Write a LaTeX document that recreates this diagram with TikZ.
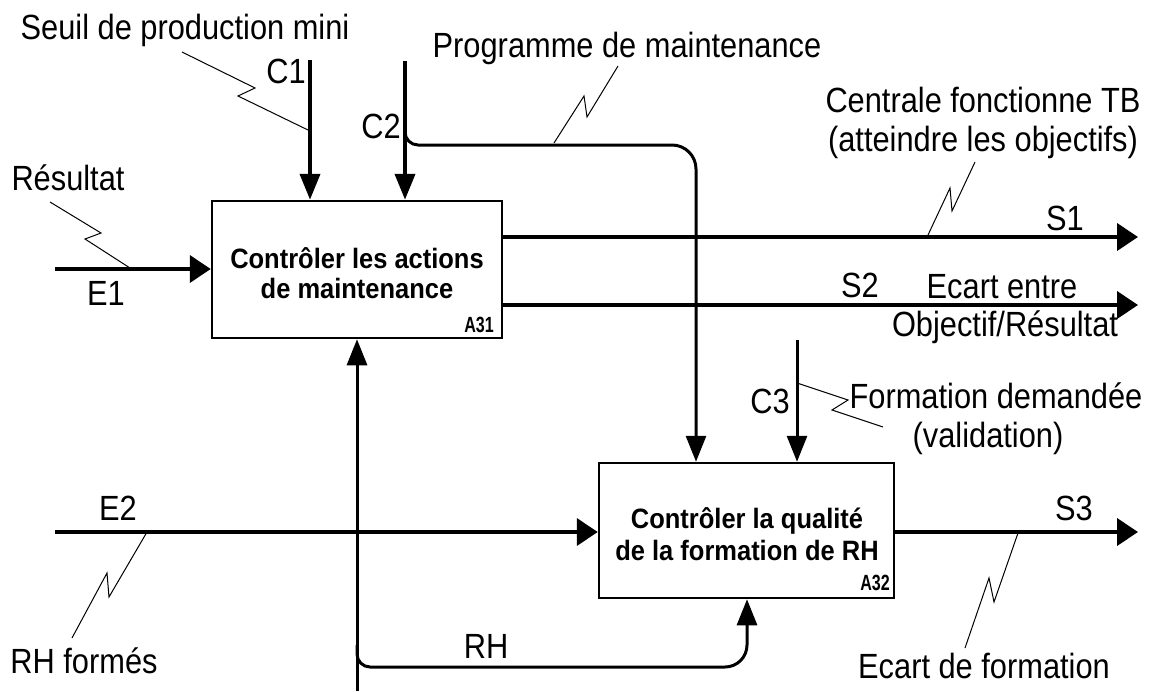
\documentclass[tikz,border=0pt]{standalone}
\usepackage{fontspec}
\setmainfont{Liberation Sans}[FakeStretch=0.88]
\newfontfamily\boxfont{Liberation Sans}[FakeStretch=0.91]
\newfontfamily\tagfont{Liberation Sans}[FakeStretch=0.73]
\usetikzlibrary{arrows.meta}
\tikzset{
 lab/.style={anchor=base, inner sep=0pt, font={\fontsize{35}{39}\selectfont}},
 btxt/.style={anchor=base, inner sep=0pt, font={\boxfont\bfseries\fontsize{28}{30}\selectfont}},
 tagtxt/.style={anchor=base east, inner sep=0pt, font={\tagfont\bfseries\fontsize{22}{24}\selectfont}},
 actbox/.style={draw, line width=2.5pt, fill=white, inner sep=0pt},
 thickline/.style={line width=4pt},
 medline/.style={line width=3pt},
 varr/.style={-{Triangle[length=26pt,width=20pt]}},
 harr/.style={-{Triangle[length=21pt,width=27pt]}},
 squig/.style={line width=1pt, line join=miter},
}
\begin{document}
\begin{tikzpicture}[x=1pt,y=-1pt]
\fill[white] (0,0) rectangle (1150,691);
\useasboundingbox (0,0) rectangle (1150,691);
% activity boxes
\node[actbox, minimum width=290pt, minimum height=137pt] (A31) at (357,269.5) {};
\node[actbox, minimum width=295pt, minimum height=135pt] (A32) at (746.5,530.5) {};
\node[btxt] (t31a) at (357,268) {Contrôler les actions};
\node[btxt] (t31b) at (357,298) {de maintenance};
\node[tagtxt] (tag31) at (494,332) {A31};
\node[btxt] (t32a) at (747,528) {Contrôler la qualité};
\node[btxt] (t32b) at (747,560) {de la formation de RH};
\node[tagtxt] (tag32) at (890,590) {A32};
% free ends
\coordinate (e1) at (55,269);
\coordinate (c1) at (310,60);
\coordinate (c2) at (405,61);
\coordinate (e2) at (55,532);
\coordinate (s1) at (1138,237);
\coordinate (s2) at (1138,305);
\coordinate (s3) at (1138,532);
\coordinate (c3) at (797,340);
\coordinate (m) at (357,691);
\coordinate (b2) at (696,145);
\coordinate (rh) at (747,667);
% connectors
\draw[thickline,harr] (e1) -- (e1 -| A31.west);
\draw[thickline,varr] (c1) -- (c1 |- A31.north);
\draw[thickline,varr] (c2) -- (c2 |- A31.north);
\draw[thickline,harr] (s1 -| A31.east) -- (s1);
\draw[thickline,harr] (s2 -| A31.east) -- (s2);
\draw[thickline,harr] (e2) -- (e2 -| A32.west);
\draw[thickline,harr] (s3 -| A32.east) -- (s3);
\draw[medline,varr] (c3) -- (c3 |- A32.north);
\draw[medline,varr] (m) -- (m |- A31.south);
\draw[medline,varr] (405,128) [rounded corners=13pt] -- (405,145) -- (600,145) [rounded corners=24pt] -- (b2) -- (b2 |- A32.north);
\draw[medline,varr] (357,645) [rounded corners=13pt] -- (357,667) -- (600,667) [rounded corners=22pt] -- (rh) -- (rh |- A32.south);
% squiggles
\draw[squig] (182,52) -- (255,88) -- (238,96) -- (308,130);
\draw[squig] (618,66) -- (587,117) -- (584,96) -- (554,143);
\draw[squig] (50,202) -- (101,233) -- (85,239) -- (130,268);
\draw[squig] (975,162) -- (952,211) -- (950,188) -- (928,235);
\draw[squig] (797,383) -- (848,400) -- (832,410) -- (883,427);
\draw[squig] (72,638) -- (107,573) -- (109,597) -- (147,532);
\draw[squig] (1018,533) -- (994,602) -- (989,578) -- (965,648);
% labels
\node[lab] (l1) at (185,39) {Seuil de production mini};
\node[lab] (l2) at (286,83) {C1};
\node[lab] (l3) at (381,138) {C2};
\node[lab] (l4) at (627,57) {Programme de maintenance};
\node[lab] (l5) at (68,190) {Résultat};
\node[lab] (l6) at (106,305) {E1};
\node[lab] (l7) at (983,112) {Centrale fonctionne TB};
\node[lab] (l8) at (983,151) {(atteindre les objectifs)};
\node[lab] (l9) at (1065,230) {S1};
\node[lab] (l10) at (860,297) {S2};
\node[lab] (l11) at (1002,298) {Ecart entre};
\node[lab] (l12) at (1005,336) {Objectif/Résultat};
\node[lab] (l13) at (770,413) {C3};
\node[lab] (l14) at (996,408) {Formation demandée};
\node[lab] (l15) at (988,447) {(validation)};
\node[lab] (l16) at (1074,520) {S3};
\node[lab] (l17) at (118,520) {E2};
\node[lab] (l18) at (486,658) {RH};
\node[lab] (l19) at (84,673) {RH formés};
\node[lab] (l20) at (984,678) {Ecart de formation};
\end{tikzpicture}
\end{document}
